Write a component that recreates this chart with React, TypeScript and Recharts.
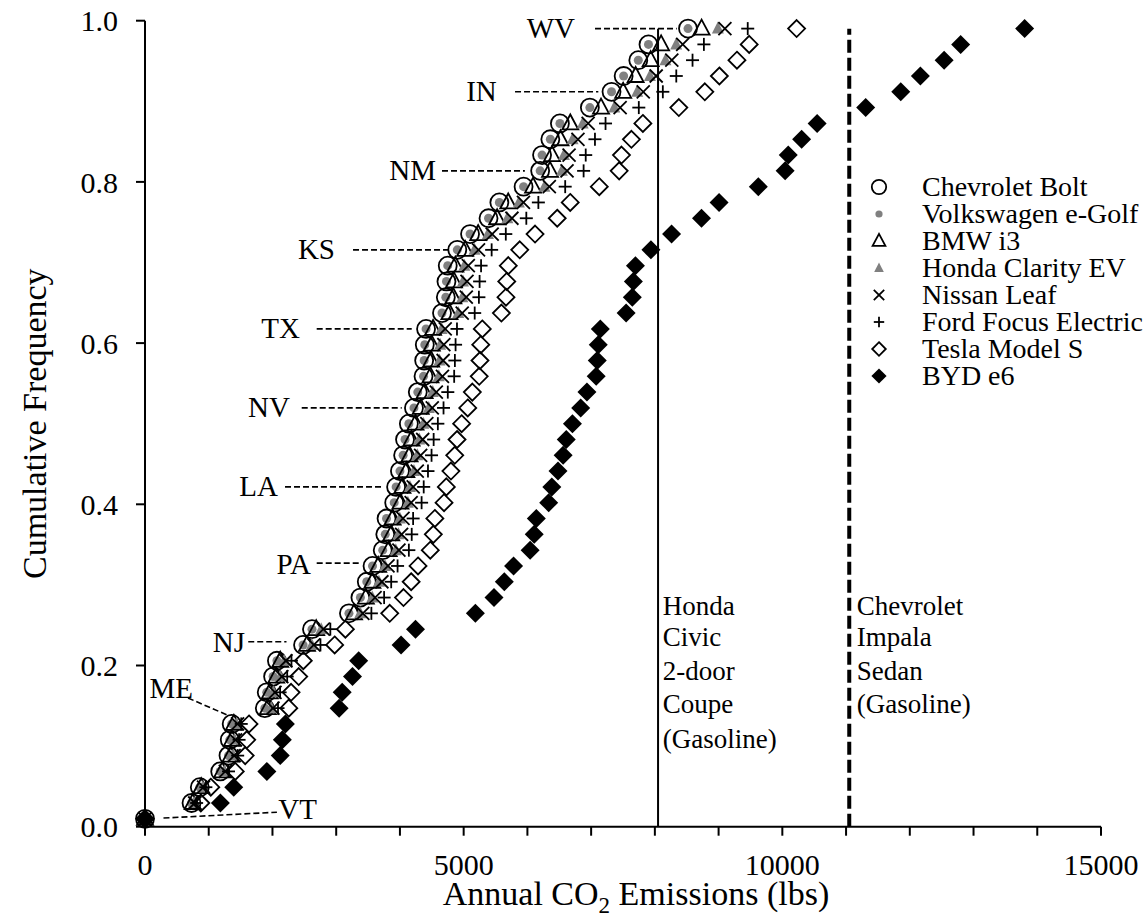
import React from 'react';
import { ScatterChart, Scatter, XAxis, YAxis, ReferenceLine, ReferenceDot } from 'recharts';

const FONT = '"Liberation Serif", "Times New Roman", serif';

// cumulative frequency of the 51 states (incl. DC), (rank + 0.5) / 51
const FREQ = [
  0.0098, 0.0294, 0.049, 0.0686, 0.0882, 0.1078, 0.1275, 0.1471, 0.1667, 0.1863,
  0.2059, 0.2255, 0.2451, 0.2647, 0.2843, 0.3039, 0.3235, 0.3431, 0.3627, 0.3824,
  0.402, 0.4216, 0.4412, 0.4608, 0.4804, 0.5, 0.5196, 0.5392, 0.5588, 0.5784,
  0.598, 0.6176, 0.6373, 0.6569, 0.6765, 0.6961, 0.7157, 0.7353, 0.7549, 0.7745,
  0.7941, 0.8137, 0.8333, 0.8529, 0.8725, 0.8922, 0.9118, 0.9314, 0.951, 0.9706, 0.9902,
];

// annual CO2 (lbs), sorted per vehicle
const BOLT = [
  0, 730, 860, 1180, 1310, 1330, 1360, 1880, 1910, 2010, 2070, 2480, 2620, 3200, 3380, 3480,
  3570, 3730, 3770, 3790, 3910, 3940, 4000, 4050, 4080, 4140, 4220, 4280, 4370, 4380, 4390,
  4410, 4660, 4720, 4730, 4750, 4900, 5100, 5390, 5560, 5940, 6200, 6230, 6360, 6510, 6980,
  7320, 7510, 7740, 7900, 8520,
];
const EGOLF = [
  0, 730, 860, 1180, 1310, 1330, 1360, 1880, 1910, 2010, 2070, 2480, 2620, 3200, 3380, 3480,
  3570, 3730, 3770, 3790, 3910, 3940, 4000, 4050, 4080, 4140, 4220, 4280, 4370, 4380, 4390,
  4410, 4660, 4720, 4730, 4750, 4900, 5100, 5390, 5560, 5940, 6200, 6230, 6360, 6510, 6980,
  7320, 7510, 7740, 7900, 8520,
];
const I3 = [
  0, 748, 882, 1210, 1343, 1363, 1394, 1927, 1958, 2060, 2122, 2542, 2686, 3280, 3465, 3567,
  3659, 3823, 3864, 3885, 4008, 4039, 4100, 4151, 4182, 4244, 4326, 4387, 4479, 4490, 4500,
  4520, 4777, 4838, 4848, 4869, 5023, 5228, 5525, 5699, 6089, 6355, 6386, 6519, 6673, 7155,
  7503, 7698, 7934, 8098, 8733,
];
const CLARITY = [
  0, 770, 907, 1245, 1382, 1403, 1435, 1983, 2015, 2121, 2184, 2616, 2764, 3376, 3566, 3671,
  3766, 3935, 3977, 3998, 4125, 4157, 4220, 4273, 4304, 4368, 4452, 4515, 4610, 4621, 4631,
  4653, 4916, 4980, 4990, 5011, 5170, 5381, 5686, 5866, 6267, 6541, 6573, 6710, 6868, 7364,
  7723, 7923, 8166, 8335, 8989,
];
const LEAF = [
  0, 780, 918, 1260, 1399, 1420, 1452, 2008, 2040, 2147, 2211, 2649, 2798, 3418, 3610, 3717,
  3813, 3984, 4026, 4048, 4176, 4208, 4272, 4325, 4357, 4422, 4507, 4571, 4667, 4678, 4689,
  4710, 4977, 5041, 5052, 5073, 5233, 5447, 5757, 5938, 6344, 6622, 6654, 6793, 6953, 7455,
  7818, 8021, 8266, 8437, 9099,
];
const FOCUS = [
  0, 810, 955, 1310, 1454, 1476, 1510, 2087, 2120, 2231, 2298, 2753, 2908, 3552, 3752, 3863,
  3963, 4140, 4185, 4207, 4340, 4373, 4440, 4496, 4529, 4595, 4684, 4751, 4851, 4862, 4873,
  4895, 5173, 5239, 5250, 5273, 5439, 5661, 5983, 6172, 6593, 6882, 6915, 7060, 7226, 7748,
  8125, 8336, 8591, 8769, 9457,
];
const TESLA = [
  0, 876, 1032, 1416, 1572, 1596, 1632, 2256, 2292, 2412, 2484, 2976, 3144, 3840, 4056, 4176,
  4284, 4476, 4524, 4548, 4692, 4728, 4800, 4860, 4896, 4968, 5064, 5136, 5244, 5256, 5268,
  5292, 5592, 5664, 5676, 5700, 5880, 6120, 6468, 6672, 7128, 7440, 7476, 7632, 7812, 8376,
  8784, 9012, 9288, 9480, 10224,
];
const BYD = [
  0, 1183, 1393, 1912, 2122, 2155, 2203, 3046, 3094, 3256, 3353, 4018, 4244, 5184, 5476, 5638,
  5783, 6043, 6107, 6140, 6334, 6383, 6480, 6561, 6610, 6707, 6836, 6934, 7079, 7096, 7112,
  7144, 7549, 7646, 7663, 7695, 7938, 8262, 8732, 9007, 9623, 10044, 10093, 10303, 10546, 11308,
  11858, 12166, 12539, 12798, 13802,
];

const X_TICKS = [0, 1000, 2000, 3000, 4000, 5000, 6000, 7000, 8000, 9000, 10000, 11000, 12000, 13000, 14000, 15000];
const Y_TICKS = [0, 0.2, 0.4, 0.6, 0.8, 1];

const CIVIC_CO2 = 8050;
const IMPALA_CO2 = 11050;

const SERIES = [
  { name: 'Chevrolet Bolt', values: BOLT, kind: 'circle' },
  { name: 'Volkswagen e-Golf', values: EGOLF, kind: 'dot' },
  { name: 'BMW i3', values: I3, kind: 'triangle' },
  { name: 'Honda Clarity EV', values: CLARITY, kind: 'greyTriangle' },
  { name: 'Nissan Leaf', values: LEAF, kind: 'cross' },
  { name: 'Ford Focus Electric', values: FOCUS, kind: 'plus' },
  { name: 'Tesla Model S', values: TESLA, kind: 'diamond' },
  { name: 'BYD e6', values: BYD, kind: 'solidDiamond' },
];

// state call-outs: dashed leader (x1,y1)-(x2,y2), text at (tx,ty)
const STATE_NOTES = [
  { label: 'VT', x1: 290, y1: 0.0107, x2: 2070, y2: 0.018, tx: 2090, ty: 0.021, side: 'right' },
  { label: 'ME', x1: 675, y1: 0.1597, x2: 1290, y2: 0.1386, tx: 753, ty: 0.172, side: 'left' },
  { label: 'NJ', x1: 1620, y1: 0.2295, x2: 2220, y2: 0.2295, tx: 1569, ty: 0.2285, side: 'left' },
  { label: 'PA', x1: 2694, y1: 0.327, x2: 3374, y2: 0.327, tx: 2605, ty: 0.325, side: 'left' },
  { label: 'LA', x1: 2197, y1: 0.4216, x2: 3735, y2: 0.4216, tx: 2087, ty: 0.4216, side: 'left' },
  { label: 'NV', x1: 2459, y1: 0.5196, x2: 4028, y2: 0.5196, tx: 2275, ty: 0.5196, side: 'left' },
  { label: 'TX', x1: 2694, y1: 0.6176, x2: 4185, y2: 0.6176, tx: 2432, ty: 0.6176, side: 'left' },
  { label: 'KS', x1: 3264, y1: 0.7157, x2: 4755, y2: 0.7157, tx: 2981, ty: 0.7157, side: 'left' },
  { label: 'NM', x1: 4660, y1: 0.8137, x2: 5960, y2: 0.8137, tx: 4566, ty: 0.8137, side: 'left' },
  { label: 'IN', x1: 5806, y1: 0.9118, x2: 7113, y2: 0.9118, tx: 5519, ty: 0.9118, side: 'left' },
  { label: 'WV', x1: 7061, y1: 0.9902, x2: 8343, y2: 0.9902, tx: 6747, ty: 0.9902, side: 'left' },
];

const CIVIC_TEXT = ['Honda', 'Civic', '2-door', 'Coupe', '(Gasoline)'];
const IMPALA_TEXT = ['Chevrolet', 'Impala', 'Sedan', '(Gasoline)'];
const TEXT_ROWS = [0.2738, 0.2347, 0.1932, 0.1522, 0.1088];

function Marker({ kind, cx, cy, s = 1 }: { kind: string; cx: number; cy: number; s?: number }) {
  const sw = 1.8;
  switch (kind) {
    case 'circle':
      return <circle cx={cx} cy={cy} r={9 * s} fill="none" stroke="#000" strokeWidth={sw} />;
    case 'dot':
      return <circle cx={cx} cy={cy} r={4.5 * s} fill="#808080" />;
    case 'triangle':
      return (
        <polygon
          points={`${cx},${cy - 9 * s} ${cx - 8 * s},${cy + 6 * s} ${cx + 8 * s},${cy + 6 * s}`}
          fill="none"
          stroke="#000"
          strokeWidth={sw}
        />
      );
    case 'greyTriangle':
      return (
        <polygon
          points={`${cx},${cy - 7 * s} ${cx - 6 * s},${cy + 5 * s} ${cx + 6 * s},${cy + 5 * s}`}
          fill="#808080"
        />
      );
    case 'cross': {
      const h = 6.5 * s;
      return (
        <g stroke="#000" strokeWidth={sw}>
          <line x1={cx - h} y1={cy - h} x2={cx + h} y2={cy + h} />
          <line x1={cx - h} y1={cy + h} x2={cx + h} y2={cy - h} />
        </g>
      );
    }
    case 'plus': {
      const h = 6.5 * s;
      return (
        <g stroke="#000" strokeWidth={sw}>
          <line x1={cx - h} y1={cy} x2={cx + h} y2={cy} />
          <line x1={cx} y1={cy - h} x2={cx} y2={cy + h} />
        </g>
      );
    }
    case 'diamond': {
      const h = 8.5 * s;
      return (
        <polygon
          points={`${cx},${cy - h} ${cx + h},${cy} ${cx},${cy + h} ${cx - h},${cy}`}
          fill="none"
          stroke="#000"
          strokeWidth={sw}
        />
      );
    }
    default: {
      const h = 9.5 * s;
      return <polygon points={`${cx},${cy - h} ${cx + h},${cy} ${cx},${cy + h} ${cx - h},${cy}`} fill="#000" />;
    }
  }
}

function NoteText(props: any) {
  const { viewBox, text, side, size } = props;
  const x = viewBox?.x ?? 0;
  const y = viewBox?.y ?? 0;
  return (
    <text
      x={x}
      y={y}
      dy="0.33em"
      textAnchor={side === 'left' ? 'end' : 'start'}
      fontFamily={FONT}
      fontSize={size}
      fill="#000"
    >
      {text}
    </text>
  );
}

function XTitle(props: any) {
  const { viewBox } = props;
  const cx = viewBox.x + viewBox.width / 2 + 13;
  const y = viewBox.y + 78;
  return (
    <text x={cx} y={y} textAnchor="middle" fontFamily={FONT} fontSize={34} fill="#000">
      Annual CO
      <tspan fontSize={23} dy={8}>2</tspan>
      <tspan dy={-8}> Emissions (lbs)</tspan>
    </text>
  );
}

function YTitle(props: any) {
  const { viewBox } = props;
  const x = viewBox.x + 11;
  const cy = viewBox.y + viewBox.height / 2;
  return (
    <text
      x={x}
      y={cy}
      transform={`rotate(-90 ${x} ${cy})`}
      textAnchor="middle"
      fontFamily={FONT}
      fontSize={34}
      fill="#000"
    >
      Cumulative Frequency
    </text>
  );
}

export default function App() {
  const tickStyle = { fill: '#000', fontSize: 30, fontFamily: FONT };
  const axisStroke = { stroke: '#000', strokeWidth: 2 };
  return (
    <div style={{ position: 'relative', width: 1146, height: 924, fontFamily: FONT }}>
      <style>{'body{margin:0;overflow:hidden}'}</style>
      <ScatterChart width={1146} height={924} margin={{ top: 20.7, right: 45, bottom: 17.3, left: 35 }}>
        <XAxis
          type="number"
          dataKey="x"
          domain={[0, 15000]}
          ticks={X_TICKS}
          interval={0}
          tickFormatter={(v: number) => (v % 5000 === 0 ? String(v) : '')}
          height={80}
          axisLine={axisStroke}
          tickLine={axisStroke}
          tickSize={9}
          tickMargin={18}
          tick={tickStyle}
          label={<XTitle />}
        />
        <YAxis
          type="number"
          dataKey="y"
          domain={[0, 1]}
          ticks={Y_TICKS}
          interval={0}
          tickFormatter={(v: number) => v.toFixed(1)}
          width={110}
          axisLine={axisStroke}
          tickLine={axisStroke}
          tickSize={9}
          tickMargin={18}
          tick={tickStyle}
          label={<YTitle />}
        />
        <ReferenceLine
          segment={[{ x: CIVIC_CO2, y: 0 }, { x: CIVIC_CO2, y: 0.99 }]}
          stroke="#000"
          strokeWidth={2}
        />
        <ReferenceLine
          segment={[{ x: IMPALA_CO2, y: 0 }, { x: IMPALA_CO2, y: 0.99 }]}
          stroke="#000"
          strokeWidth={4}
          strokeDasharray="13 5"
        />
        {STATE_NOTES.map((n) => (
          <ReferenceLine
            key={`l-${n.label}`}
            segment={[{ x: n.x1, y: n.y1 }, { x: n.x2, y: n.y2 }]}
            stroke="#000"
            strokeWidth={1.6}
            strokeDasharray="6 3"
          />
        ))}
        {STATE_NOTES.map((n) => (
          <ReferenceDot
            key={`t-${n.label}`}
            x={n.tx}
            y={n.ty}
            r={0}
            fill="none"
            stroke="none"
            label={<NoteText text={n.label} side={n.side} size={29} />}
          />
        ))}
        {CIVIC_TEXT.map((t, i) => (
          <ReferenceDot
            key={`c-${i}`}
            x={CIVIC_CO2 + 73}
            y={TEXT_ROWS[i]}
            r={0}
            fill="none"
            stroke="none"
            label={<NoteText text={t} side="right" size={27} />}
          />
        ))}
        {IMPALA_TEXT.map((t, i) => (
          <ReferenceDot
            key={`i-${i}`}
            x={IMPALA_CO2 + 117}
            y={TEXT_ROWS[i]}
            r={0}
            fill="none"
            stroke="none"
            label={<NoteText text={t} side="right" size={27} />}
          />
        ))}
        {SERIES.map((s) => (
          <Scatter
            key={s.name}
            name={s.name}
            data={s.values.map((v, i) => ({ x: v, y: FREQ[i] }))}
            isAnimationActive={false}
            shape={(p: any) => <Marker kind={s.kind} cx={p.cx} cy={p.cy} />}
          />
        ))}
      </ScatterChart>
      <div style={{ position: 'absolute', left: 869, top: 173, whiteSpace: 'nowrap' }}>
        {SERIES.map((s) => (
          <div key={s.name} style={{ display: 'flex', alignItems: 'center', height: 27 }}>
            <svg width={20} height={20}>
              <Marker kind={s.kind} cx={10} cy={10} s={0.8} />
            </svg>
            <span style={{ marginLeft: 33, fontSize: 28, lineHeight: '27px', color: '#000' }}>{s.name}</span>
          </div>
        ))}
      </div>
    </div>
  );
}
